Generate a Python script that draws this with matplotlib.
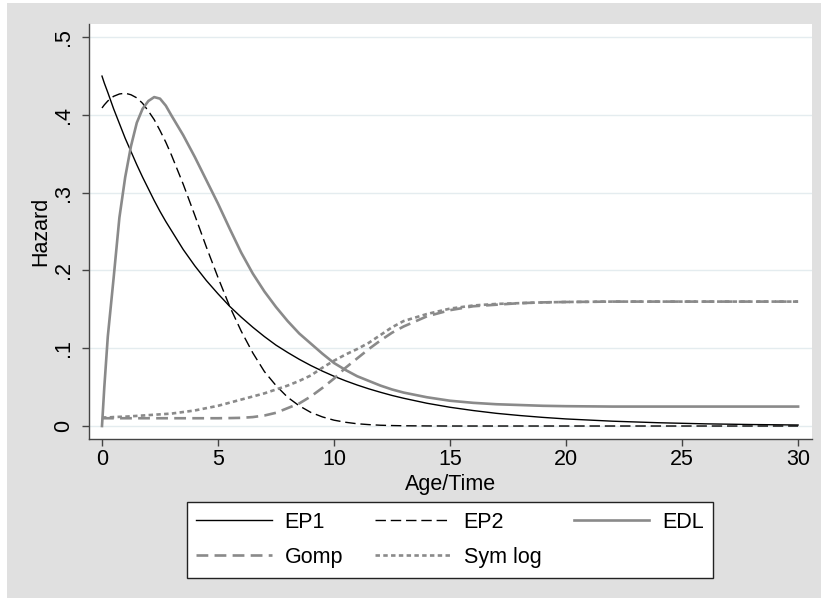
import matplotlib
matplotlib.use("Agg")
import matplotlib.pyplot as plt
from matplotlib.patches import Rectangle

plt.rcParams['font.family'] = ['Liberation Sans', 'DejaVu Sans']
plt.rcParams['lines.scale_dashes'] = False

# ---- data ----
age = [0, 0.1, 0.25, 0.5, 0.75, 1, 1.25, 1.5, 1.75, 2, 2.25, 2.5, 2.75, 3, 3.5,
       4, 4.5, 5, 5.5, 6, 6.5, 7, 7.5, 8, 8.5, 9, 9.5, 10, 10.5, 11, 11.5, 12,
       12.5, 13, 14, 15, 16, 17, 18, 19, 20, 22, 24, 26, 28, 30]

ep1 = [0.450, 0.441, 0.429, 0.408, 0.389, 0.370, 0.353, 0.336, 0.320, 0.305,
       0.290, 0.276, 0.263, 0.251, 0.227, 0.206, 0.187, 0.170, 0.154, 0.140,
       0.127, 0.115, 0.104, 0.0946, 0.0858, 0.0778, 0.0706, 0.0640, 0.0581,
       0.0527, 0.0478, 0.0434, 0.0393, 0.0357, 0.0293, 0.0241, 0.0199, 0.0163,
       0.0135, 0.0111, 0.0091, 0.0062, 0.0042, 0.0028, 0.0019, 0.0013]

ep2 = [0.409, 0.413, 0.418, 0.424, 0.427, 0.428, 0.426, 0.422, 0.415, 0.405,
       0.394, 0.380, 0.365, 0.348, 0.311, 0.271, 0.230, 0.191, 0.154, 0.122,
       0.094, 0.070, 0.052, 0.037, 0.026, 0.0175, 0.0117, 0.0075, 0.0048,
       0.0029, 0.0018, 0.0010, 0.0006, 0.0003, 0.0001, 0.0, 0.0, 0.0, 0.0, 0.0,
       0.0, 0.0, 0.0, 0.0, 0.0, 0.0]

edl = [0.0, 0.05, 0.115, 0.19, 0.268, 0.32, 0.36, 0.39, 0.408, 0.418, 0.423,
       0.421, 0.412, 0.399, 0.374, 0.346, 0.316, 0.286, 0.254, 0.223, 0.196,
       0.173, 0.153, 0.135, 0.119, 0.106, 0.093, 0.081, 0.072, 0.064, 0.058,
       0.052, 0.047, 0.043, 0.037, 0.0325, 0.0298, 0.028, 0.027, 0.026, 0.0255,
       0.025, 0.025, 0.025, 0.025, 0.025]

gomp = [0.010, 0.010, 0.010, 0.010, 0.010, 0.010, 0.010, 0.010, 0.010, 0.010,
        0.010, 0.010, 0.010, 0.010, 0.010, 0.010, 0.010, 0.010, 0.0102, 0.0105,
        0.0115, 0.0135, 0.017, 0.023, 0.029, 0.038, 0.049, 0.061, 0.075, 0.087,
        0.099, 0.110, 0.120, 0.128, 0.141, 0.149, 0.154, 0.156, 0.158, 0.159,
        0.1595, 0.160, 0.160, 0.160, 0.160, 0.160]

symlog = [0.011, 0.011, 0.011, 0.0115, 0.0118, 0.012, 0.0125, 0.013, 0.0135,
          0.014, 0.0145, 0.015, 0.0155, 0.016, 0.018, 0.020, 0.023, 0.026, 0.030,
          0.034, 0.038, 0.042, 0.047, 0.052, 0.058, 0.065, 0.075, 0.084, 0.092,
          0.099, 0.107, 0.117, 0.127, 0.135, 0.144, 0.151, 0.155, 0.157, 0.158,
          0.159, 0.1595, 0.160, 0.160, 0.160, 0.160, 0.160]

xticks = [0, 5, 10, 15, 20, 25, 30]
yticks = [0, 0.1, 0.2, 0.3, 0.4, 0.5]
yticklabels = ["0", ".1", ".2", ".3", ".4", ".5"]

W, H = 821, 598
fig = plt.figure(figsize=(W / 100, H / 100), dpi=100, facecolor='white')
fig.patches.append(Rectangle((7 / W, 0), 1 - 7 / W, 1 - 3 / H, transform=fig.transFigure,
                             facecolor='#e0e0e0', edgecolor='none', zorder=-10))

ax = fig.add_axes([89 / W, 1 - 439 / H, (812 - 89) / W, (439 - 24) / H])
ax.set_facecolor('white')

gray = '#8a8a8a'
fs = 15.5
l1, = ax.plot(age, ep1, color='black', lw=1.0, label='EP1')
l2, = ax.plot(age, ep2, color='black', lw=1.0, dashes=(7.5, 3.5), label='EP2')
l3, = ax.plot(age, edl, color=gray, lw=1.9, label='EDL')
l4, = ax.plot(age, gomp, color=gray, lw=1.9, dashes=(8.5, 4.5), label='Gomp')
l5, = ax.plot(age, symlog, color=gray, lw=1.9, dashes=(3.2, 2.4), label='Sym log')

ax.set_xlim(-0.56, 30.6)
ax.set_ylim(-0.0167, 0.517)
ax.set_xticks(xticks)
ax.set_yticks(yticks)
ax.set_yticklabels(yticklabels, rotation=90, va='center')
ax.tick_params(axis='both', direction='out', length=5, width=1, color='#444444',
               labelsize=fs, labelcolor='black')
ax.tick_params(axis='y', pad=6)
ax.tick_params(axis='x', pad=2)
ax.grid(axis='y', color='#e4ecef', lw=1.0)
ax.set_axisbelow(True)
for s in ['top', 'right']:
    ax.spines[s].set_visible(False)
for s in ['left', 'bottom']:
    ax.spines[s].set_color('#444444')
    ax.spines[s].set_linewidth(1.0)

ax.set_xlabel('Age/Time', fontsize=fs, labelpad=3)
ax.set_ylabel('Hazard', fontsize=fs, labelpad=1)

handles = [l1, l4, l2, l5, l3]
leg = fig.legend(handles, [h.get_label() for h in handles], ncol=3,
                 loc='center', bbox_to_anchor=(450 / W, 1 - 540 / H),
                 fontsize=fs, handlelength=3.5, handletextpad=0.6,
                 columnspacing=1.5, borderpad=0.45, labelspacing=0.65,
                 fancybox=False, framealpha=1, edgecolor='#222222')
leg.get_frame().set_linewidth(1.0)

fig.savefig('out.png', dpi=100, facecolor=fig.get_facecolor())
